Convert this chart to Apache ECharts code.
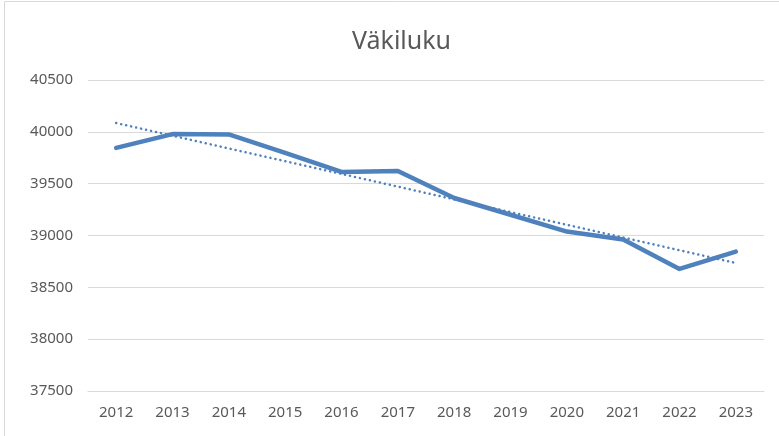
<!DOCTYPE html>
<html>
<head>
    <meta charset="utf-8">
    <title>Väkiluku</title>
    <script src="https://cdn.jsdelivr.net/npm/echarts@6/dist/echarts.min.js"></script>
    <style>
        html, body { margin: 0; padding: 0; background: #fff; }
        #main { width: 779px; height: 436px; }
    </style>
</head>
<body>
<div id="main"></div>
<script type="text/javascript">
    // data
    var years = ['2012', '2013', '2014', '2015', '2016', '2017', '2018', '2019', '2020', '2021', '2022', '2023'];
    var population = [39845, 39978, 39975, 39797, 39613, 39623, 39362, 39200, 39038, 38961, 38678, 38845];
    // trendline end points (dotted)
    var trend = [40085, null, null, null, null, null, null, null, null, null, null, 38735];

    var labelFont = "'Liberation Sans Narrow', 'Noto Sans', sans-serif";
    var grey = '#595959';
    var blue = '#4f81bd';

    var chart = echarts.init(document.getElementById('main'));

    var option = {
        animation: false,
        backgroundColor: '#fff',
        title: {
            text: 'Väkiluku',
            left: 347,
            top: 24,
            textStyle: {
                fontFamily: labelFont,
                fontSize: 25,
                fontWeight: 'normal',
                color: grey
            }
        },
        graphic: [{
            type: 'rect',
            shape: { x: 4.5, y: 1.5, width: 800, height: 500 },
            style: { fill: 'none', stroke: '#d9d9d9', lineWidth: 1 },
            silent: true
        }],
        grid: {
            left: 88,
            right: 15,
            top: 80,
            bottom: 45
        },
        xAxis: {
            type: 'category',
            data: years,
            boundaryGap: true,
            axisLine: { show: true, lineStyle: { color: '#d9d9d9' } },
            axisTick: { show: false },
            axisLabel: {
                color: grey,
                fontFamily: labelFont,
                fontSize: 15,
                margin: 14
            }
        },
        yAxis: {
            type: 'value',
            min: 37500,
            max: 40500,
            interval: 500,
            axisLine: { show: false },
            axisTick: { show: false },
            splitLine: { lineStyle: { color: '#d9d9d9', width: 1 } },
            axisLabel: {
                color: grey,
                fontFamily: labelFont,
                fontSize: 15,
                margin: 15,
                formatter: function (v) { return String(v); }
            }
        },
        series: [{
            name: 'Väkiluku',
            type: 'line',
            data: population,
            symbol: 'none',
            lineStyle: { color: blue, width: 4.5, cap: 'round', join: 'round' },
            z: 3
        }, {
            name: 'Trend',
            type: 'line',
            data: trend,
            connectNulls: true,
            symbol: 'none',
            lineStyle: { color: blue, width: 2.5, type: [0.1, 5], cap: 'round' },
            z: 2
        }]
    };

    chart.setOption(option);
</script>
</body>
</html>
